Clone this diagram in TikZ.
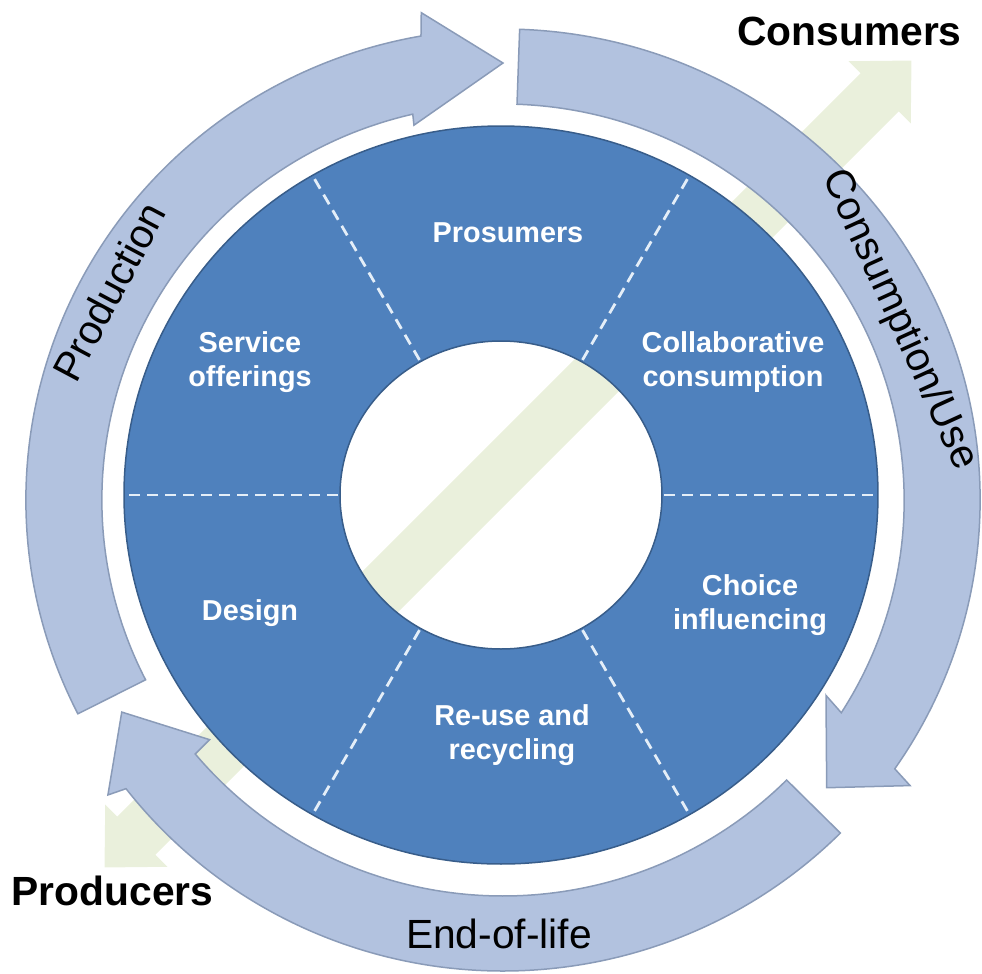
\documentclass[tikz,border=0pt]{standalone}
\usepackage{fontspec}
\setmainfont{Liberation Sans}
\definecolor{discblue}{HTML}{4F81BD}
\definecolor{discline}{HTML}{385D8A}
\definecolor{ringfill}{HTML}{B2C2DF}
\definecolor{ringline}{HTML}{8A9BB8}
\definecolor{leaf}{HTML}{EAF0DC}
\definecolor{dashcol}{HTML}{E4EEF8}
\begin{document}
\begin{tikzpicture}[x=0.1mm,y=0.1mm,
  ringarrow/.style={fill=ringfill,draw=ringline,line width=0.15mm,line join=miter},
  disc/.style={fill=discblue,draw=discline,line width=0.15mm,even odd rule},
  divider/.style={draw=dashcol,line width=0.28mm,dash pattern=on 1.1mm off 0.7mm},
  outerlabel/.style={inner sep=0pt,font=\fontsize{11.6}{14}\selectfont\bfseries},
  ringlabel/.style={inner sep=0pt,font=\fontsize{11.6}{14}\selectfont},
  innerlabel/.style={inner sep=0pt,text=white,align=center,font=\fontsize{8.2}{9.7}\selectfont\bfseries}]
\useasboundingbox (0,0) rectangle (982,-974);
% green double arrow (behind everything)
\begin{scope}[shift={(508,-464)},rotate=45]
\fill[leaf] (570.6,0) -- (525.6,44) -- (525.6,27) -- (-525.6,27) -- (-525.6,44)
  -- (-570.6,0) -- (-525.6,-44) -- (-525.6,-27) -- (525.6,-27) -- (525.6,-44) -- cycle;
\end{scope}
% ring arrows
\begin{scope}[shift={(503,-500)},xscale=1.013]
\filldraw[ringarrow] (207:47.1mm) arc[start angle=207,end angle=99.9,radius=47.1mm]
  -- (99.4:49.4mm) -- (90:43.7mm) -- (103.2:38.5mm) -- (103:39.6mm)
  arc[start angle=103,end angle=207,radius=39.6mm] -- cycle;
\filldraw[ringarrow] (88:47.1mm) arc[start angle=88,end angle=-34.8,radius=47.1mm]
  -- (-35.4:49.3mm) -- (-42:43mm) -- (-31.5:37.4mm) -- (-32.5:39.6mm)
  arc[start angle=-32.5,end angle=88,radius=39.6mm] -- cycle;
\filldraw[ringarrow] (315:47.1mm) arc[start angle=315,end angle=217.8,radius=47.1mm]
  -- (217.1:48.9mm) -- (209.4:43.2mm) -- (219.6:37.6mm) -- (219.9:39.6mm)
  arc[start angle=219.9,end angle=315,radius=39.6mm] -- cycle;
\end{scope}
% blue donut
\path[disc] (501,-495) ellipse [x radius=37.7mm,y radius=36.9mm]
            (501,-495) ellipse [x radius=16.1mm,y radius=15.4mm];
\foreach \a in {0,60,120,180,240,300}
  \draw[divider] ({501+163*cos(\a)},{-495+156*sin(\a)}) -- ({501+375*cos(\a)},{-495+367*sin(\a)});
% labels
\node[outerlabel,anchor=base] (cons) at (849.5,-45) {Consumers};
\node[outerlabel,anchor=base] (prod) at (112.5,-905) {Producers};
\node[ringlabel,anchor=base] (eol) at (499,-948) {End-of-life};
\node[ringlabel,rotate=62] (production) at (109,-292) {Production};
\node[ringlabel,rotate=-65.5] (consuse) at (899,-320) {Consumption/Use};
\node[innerlabel] (prosumers) at (508,-233) {Prosumers};
\node[innerlabel] (service) at (250,-362) {Service\\offerings};
\node[innerlabel] (collab) at (733,-362) {Collaborative\\consumption};
\node[innerlabel] (design) at (250,-613) {Design};
\node[innerlabel] (choice) at (750,-605) {Choice\\influencing};
\node[innerlabel] (reuse) at (512,-735) {Re-use and\\recycling};
\end{tikzpicture}
\end{document}
